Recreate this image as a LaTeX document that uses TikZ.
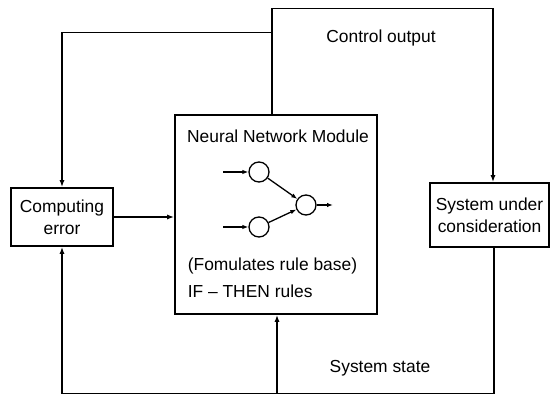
\documentclass[tikz,border=0pt]{standalone}
\usepackage{fontspec}
\setmainfont{Liberation Sans}
\usetikzlibrary{arrows.meta}
\newcommand\lblfont{\fontsize{17.4}{22}\selectfont}
\tikzset{
  box/.style={draw, rectangle, inner sep=0pt, align=center, font=\lblfont},
  arr/.style={-{Latex[length=7pt,width=5pt]}},
  smallarr/.style={-{Latex[length=6pt,width=4.5pt]}},
  neuron/.style={draw, circle, minimum size=20pt, inner sep=0pt, line width=1.3pt},
  lbl/.style={font=\lblfont, inner sep=0pt, anchor=base}
}
\begin{document}
\begin{tikzpicture}[x=1pt, y=-1pt, line width=1.6pt]
\useasboundingbox (0,0) rectangle (550,395);

% blocks
\node[box, minimum width=102pt, minimum height=58pt] (err) at (62,217) {Computing\\error};
\node[box, minimum width=202pt, minimum height=199pt] (nn) at (276,214.5) {};
\node[box, minimum width=119pt, minimum height=64pt] (sys) at (489.5,215) {System under\\consideration};

% labels
\node[lbl] (ctl) at (381,43) {Control output};
\node[lbl] (title) at (278,143) {Neural Network Module};
\node[lbl] (form) at (272.5,271) {(Fomulates rule base)};
\node[lbl, anchor=base west] (rules) at (187,298) {IF -- THEN rules};
\node[lbl] (state) at (380,373) {System state};

% small network
\node[neuron] (n1) at (259,172) {};
\node[neuron] (n2) at (259,227) {};
\node[neuron] (n3) at (306,205) {};
\coordinate (i1) at (223,172);
\coordinate (i2) at (223,227);
\coordinate (o1) at (333,205);
\begin{scope}[line width=1.3pt]
\draw[smallarr] (i1) -- (n1);
\draw[smallarr] (i2) -- (n2);
\draw[smallarr] (n1) -- (n3);
\draw[smallarr] (n2) -- (n3);
\draw[smallarr] (n3) -- (o1);
\end{scope}

% connector coordinates
\coordinate (tl) at (272,8.5);
\coordinate (tr) at (493,8.5);
\coordinate (j) at (272,32.5);
\coordinate (br) at (494,393.5);
\coordinate (bm) at (277,393.5);

% control output paths
\draw[arr] (nn.north -| tl) -- (tl) -| (sys.north -| tr);
\draw[arr] (j) -| (err.north);
% error to module
\draw[arr] (err.east) -- (nn.west |- err.east);
% system state feedback
\draw[arr] (sys.south -| br) -- (br) -| (err.south);
\draw[arr] (bm) -- (nn.south -| bm);
\end{tikzpicture}
\end{document}
